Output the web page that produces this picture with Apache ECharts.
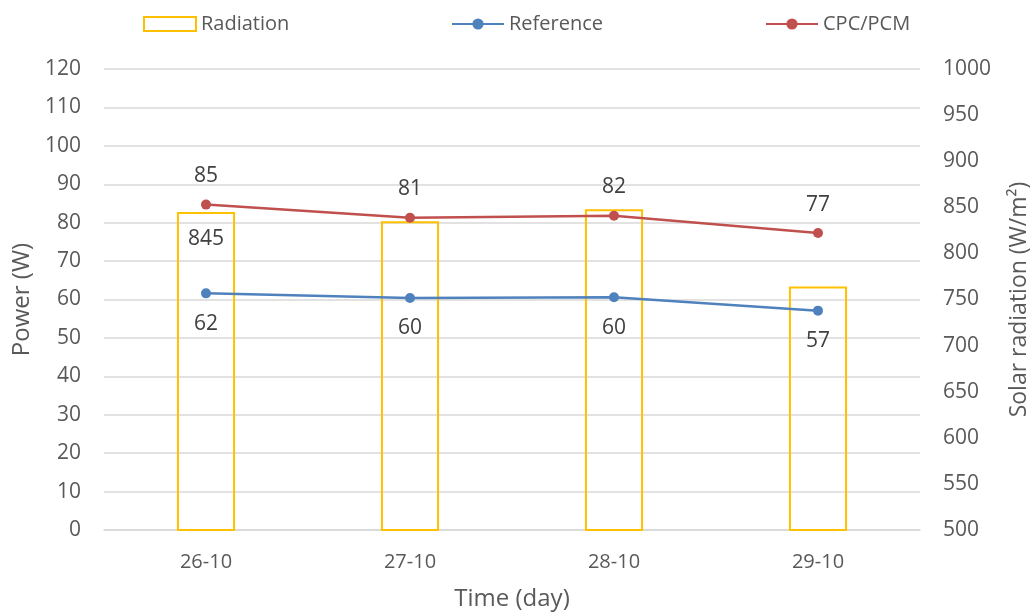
<!DOCTYPE html>
<html>
<head>
<meta charset="utf-8">
<script src="https://cdn.jsdelivr.net/npm/echarts@6/dist/echarts.min.js"></script>
<style>
  html, body { margin: 0; padding: 0; background: #fff; }
  #main { width: 1030px; height: 614px; }
</style>
</head>
<body>
<div id="main"></div>
<script>
// data
var days = ['26-10', '27-10', '28-10', '29-10'];
var radiation = [845, 835, 848, 764];
var reference = [61.6, 60.4, 60.6, 57.1];
var cpcPcm = [84.7, 81.3, 81.8, 77.3];
var radiationLabels = ['845', '', '', ''];
var referenceLabels = ['62', '60', '60', '57'];
var cpcLabels = ['85', '81', '82', '77'];

var font = 'Open Sans';
var txt = '#595959';

var chart = echarts.init(document.getElementById('main'));

function legendAt(left, item) {
  return {
    left: left, top: 9,
    itemWidth: 52, itemHeight: 14,
    data: [item],
    textStyle: { fontFamily: font, fontSize: 20, color: txt }
  };
}

var option = {
  animation: false,
  backgroundColor: '#fff',
  legend: [
    legendAt(138, { name: 'Radiation', icon: 'rect',
      itemStyle: { color: 'transparent', borderColor: '#ffc000', borderWidth: 2 } }),
    legendAt(446, 'Reference'),
    legendAt(760, 'CPC/PCM')
  ],
  grid: { left: 104, right: 110, top: 69, bottom: 84, outerBoundsMode: 'none' },
  xAxis: {
    type: 'category',
    data: days,
    name: 'Time (day)',
    nameLocation: 'middle',
    nameGap: 57,
    nameTextStyle: { fontFamily: font, fontSize: 24, color: txt },
    axisLine: { lineStyle: { color: '#d9d9d9', width: 1.5 } },
    axisTick: { show: false },
    axisLabel: { fontFamily: font, fontSize: 20, color: txt, margin: 22 }
  },
  yAxis: [
    {
      type: 'value', min: 0, max: 120, interval: 10,
      name: 'Power (W)',
      nameLocation: 'middle',
      nameGap: 67,
      nameTextStyle: { fontFamily: font, fontSize: 24, color: txt },
      axisLine: { show: false },
      axisTick: { show: false },
      axisLabel: { fontFamily: font, fontSize: 21, color: txt, margin: 23 },
      splitLine: { lineStyle: { color: '#d9d9d9', width: 1.5 } }
    },
    {
      type: 'value', min: 500, max: 1000, interval: 50,
      name: 'Solar radiation (W/m²)',
      nameLocation: 'middle',
      nameGap: 88,
      nameTextStyle: { fontFamily: font, fontSize: 23, color: txt },
      axisLine: { show: false },
      axisTick: { show: false },
      axisLabel: { fontFamily: font, fontSize: 21, color: txt, margin: 23,
        formatter: function (v) { return String(v); } },
      splitLine: { show: false }
    }
  ],
  series: [
    {
      name: 'Radiation',
      type: 'bar',
      yAxisIndex: 1,
      barWidth: '28.5%',
      data: radiation,
      itemStyle: { color: 'transparent', borderColor: '#ffc000', borderWidth: 2 },
      label: {
        show: true, position: 'insideTop', distance: 17,
        fontFamily: font, fontSize: 21, color: '#404040',
        formatter: function (p) { return radiationLabels[p.dataIndex]; }
      }
    },
    {
      name: 'Reference',
      type: 'line',
      data: reference,
      symbol: 'circle', symbolSize: 10,
      itemStyle: { color: '#4f81bd' },
      lineStyle: { color: '#4f81bd', width: 2.5 },
      label: {
        show: true, position: 'bottom', distance: 15,
        fontFamily: font, fontSize: 21, color: '#404040',
        formatter: function (p) { return referenceLabels[p.dataIndex]; }
      }
    },
    {
      name: 'CPC/PCM',
      type: 'line',
      data: cpcPcm,
      symbol: 'circle', symbolSize: 10,
      itemStyle: { color: '#c0504d' },
      lineStyle: { color: '#c0504d', width: 2.5 },
      label: {
        show: true, position: 'top', distance: 13,
        fontFamily: font, fontSize: 21, color: '#404040',
        formatter: function (p) { return cpcLabels[p.dataIndex]; }
      }
    }
  ]
};

chart.setOption(option);
</script>
</body>
</html>
